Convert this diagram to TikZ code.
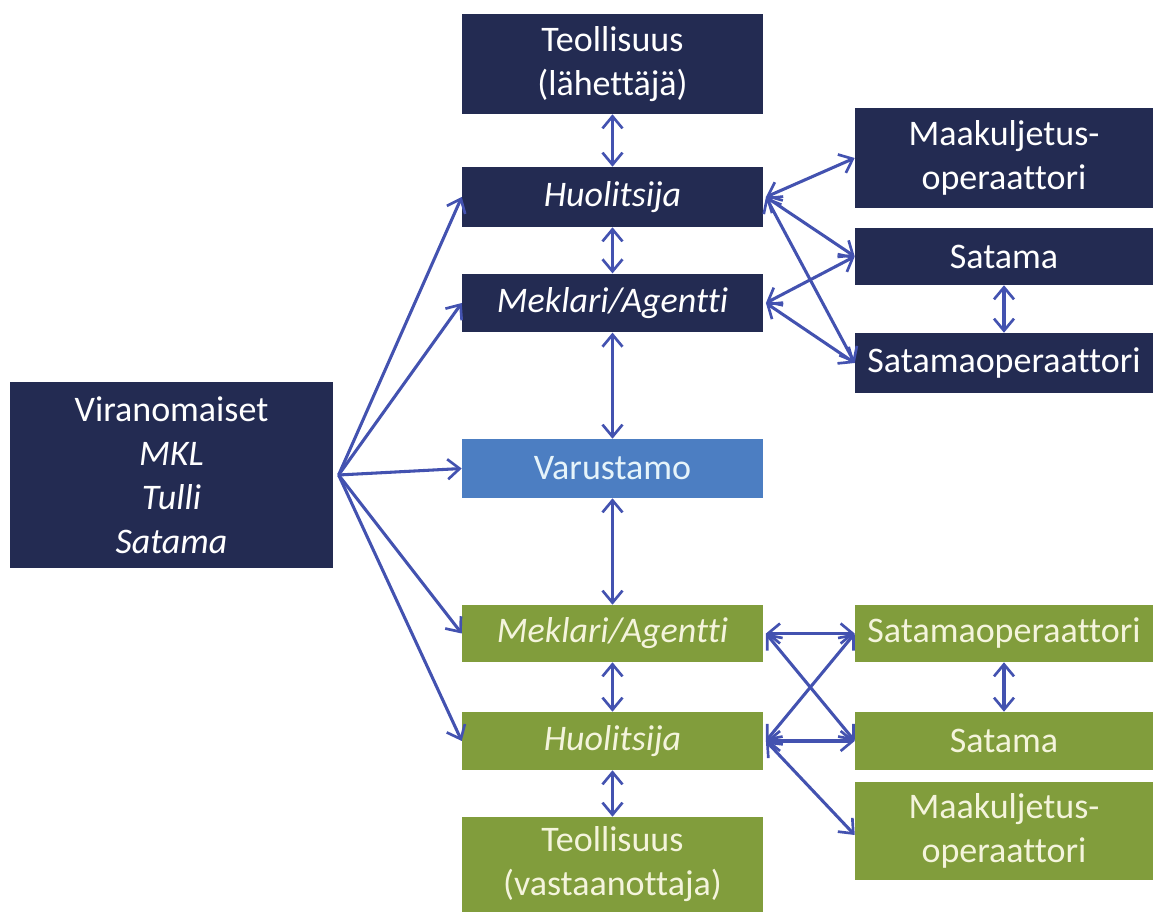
\documentclass[tikz,border=0pt]{standalone}
\usepackage{fontspec}
\setmainfont{Carlito}[Ligatures=NoCommon]
\usetikzlibrary{arrows.meta}
\definecolor{navy}{HTML}{232B52}
\definecolor{vblue}{HTML}{4C7EC2}
\definecolor{lgreen}{HTML}{819D3C}
\definecolor{arrc}{HTML}{4352B0}
\definecolor{gtext}{HTML}{F4F4DC}
\definecolor{vtext}{HTML}{E6F4FA}
\begin{document}
\begin{tikzpicture}[x=0.75pt,y=-0.75pt,
  box/.style={rectangle, inner sep=0pt, align=center, font=\fontsize{27}{33}\selectfont},
  mid/.style={box, minimum width=225.75pt},
  rgt/.style={box, minimum width=223.5pt},
  dk/.style={fill=navy, text=white},
  gr/.style={fill=lgreen, text=gtext},
  tip/.tip={Straight Barb[length=9pt,width=15pt,line width=2pt]},
  dbl/.style={draw=arrc, line width=2.3pt, tip-tip},
  sgl/.style={draw=arrc, line width=2.3pt, -tip}
]
\useasboundingbox (0,0) rectangle (1153,912);

% middle column
\node[mid,dk,minimum height=75pt] (t1) at (612.5,64) {Teollisuus\\(lähettäjä)};
\node[mid,dk,minimum height=45pt] (h1) at (612.5,197) {\itshape Huolitsija};
\node[mid,dk,minimum height=44pt] (m1) at (612.5,303) {\itshape Meklari/Agentti};
\node[mid,fill=vblue,text=vtext,minimum height=44.25pt] (v) at (612.5,468.5) {Varustamo};
\node[mid,gr,minimum height=42.75pt] (m2) at (612.5,633.5) {\itshape Meklari/Agentti};
\node[mid,gr,minimum height=43.5pt] (h2) at (612.5,741) {\itshape Huolitsija};
\node[mid,gr,minimum height=71.25pt] (t2) at (612.5,864.5) {Teollisuus\\(vastaanottaja)};

% left
\node[box,dk,minimum width=242.25pt,minimum height=139.5pt] (vir) at (171.5,475) {Viranomaiset\\\textit{MKL}\\\textit{Tulli}\\\textit{Satama}};

% right top
\node[rgt,dk,minimum height=75pt] (mk1) at (1004,158) {Maakuljetus-\\operaattori};
\node[rgt,dk,minimum height=42.75pt] (s1) at (1004,256.5) {Satama};
\node[rgt,dk,minimum height=45pt] (so1) at (1004,363) {Satamaoperaattori};

% right bottom
\node[rgt,gr,minimum height=42.75pt] (so2) at (1004,633.5) {Satamaoperaattori};
\node[rgt,gr,minimum height=43.5pt] (s2) at (1004,741) {Satama};
\node[rgt,gr,minimum height=73.5pt] (mk2) at (1004,831) {Maakuljetus-\\operaattori};

% vertical arrows
\draw[dbl] (t1) -- (h1);
\draw[dbl] (h1) -- (m1);
\draw[dbl] (m1) -- (v);
\draw[dbl] (v) -- (m2);
\draw[dbl] (m2) -- (h2);
\draw[dbl] (h2) -- (t2);
\draw[dbl] (s1) -- (so1);
\draw[dbl] (so2) -- (s2);

% authority arrows
\coordinate (vo) at ([xshift=4pt]vir.east);
\draw[sgl] (vo) -- (h1.west);
\draw[sgl] (vo) -- (m1.west);
\draw[sgl] (vo) -- (v.west);
\draw[sgl] (vo) -- (m2.west);
\draw[sgl] (vo) -- (h2.west);

% top right arrows
\draw[dbl] ([xshift=2pt]h1.east) -- (mk1.west);
\draw[dbl] ([xshift=2pt]h1.east) -- (s1.west);
\draw[dbl] ([xshift=2pt]h1.east) -- (so1.west);
\draw[dbl] ([xshift=2pt]m1.east) -- (s1.west);
\draw[dbl] ([xshift=2pt]m1.east) -- (so1.west);

% bottom right arrows
\draw[dbl] ([xshift=2pt]m2.east) -- (so2.west);
\draw[dbl] ([xshift=2pt]m2.east) -- (s2.west);
\draw[dbl] ([xshift=2pt]h2.east) -- (so2.west);
\draw[dbl] ([xshift=2pt]h2.east) -- (s2.west);
\draw[dbl] ([xshift=2pt]h2.east) -- ([yshift=-3pt]mk2.west);
\end{tikzpicture}
\end{document}
